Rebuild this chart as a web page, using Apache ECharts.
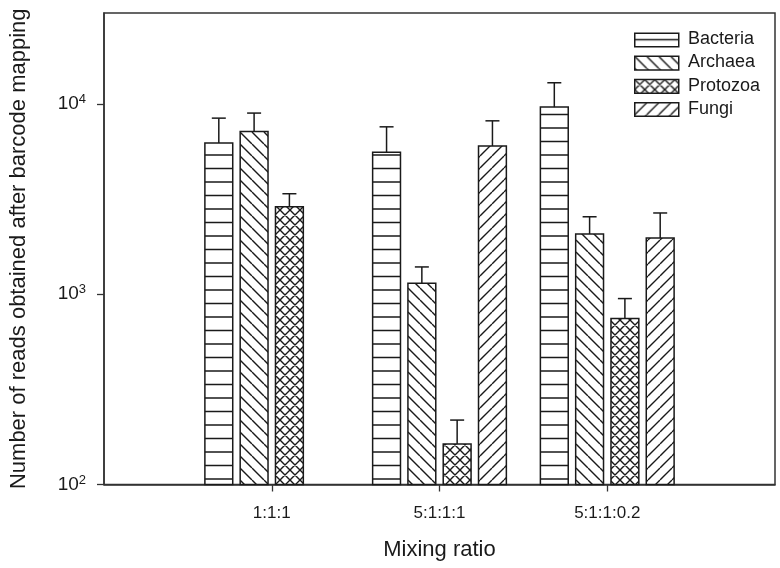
<!DOCTYPE html>
<html>
<head>
<meta charset="utf-8">
<script src="https://cdn.jsdelivr.net/npm/echarts@6/dist/echarts.min.js"></script>
<style>html,body{margin:0;padding:0;background:#fff}#c{width:780px;height:568px}</style>
</head>
<body>
<div id="c"></div>
<script>
const categories = ['1:1:1', '5:1:1:1', '5:1:1:0.2'];
const seriesNames = ['Bacteria', 'Archaea', 'Protozoa', 'Fungi'];
const bacteria    = [6220, 5570, 9610];
const bacteriaErr = [8410, 7570, 12900];
const archaea     = [7150, 1140, 2070];
const archaeaErr  = [8940, 1390, 2550];
const protozoa    = [2880, 163, 744];
const protozoaErr = [3370, 218, 948];
const fungi       = [null, 6000, 1970];
const fungiErr    = [null, 8140, 2670];
const yTicks = [100, 1000, 10000];
const yMin = 100, yMax = 30000;

const INK = '#1a1a1a';
const FONT = '"Liberation Sans", Arial, Helvetica, sans-serif';

function makePattern(type) {
  const c = document.createElement('canvas');
  let w, h;
  if (type === 'h') { w = 10; h = 27; }
  else if (type === 'x') { w = h = 10; }
  else { w = h = 12; }
  c.width = w; c.height = h;
  const ctx = c.getContext('2d');
  ctx.fillStyle = '#fff';
  ctx.fillRect(0, 0, w, h);
  ctx.strokeStyle = INK;
  ctx.lineWidth = 1.4;
  ctx.beginPath();
  if (type === 'h') {
    ctx.moveTo(0, 6.5); ctx.lineTo(w, 6.5);
    ctx.moveTo(0, 20); ctx.lineTo(w, 20);
  }
  if (type === 'b' || type === 'x') {
    for (let k = -1; k <= 1; k++) { ctx.moveTo(k * w, 0); ctx.lineTo(k * w + w, h); }
  }
  if (type === 'f' || type === 'x') {
    for (let k = -1; k <= 1; k++) { ctx.moveTo(k * w, h); ctx.lineTo(k * w + w, 0); }
  }
  ctx.stroke();
  return { image: c, repeat: 'repeat' };
}
const patterns = [makePattern('h'), makePattern('b'), makePattern('x'), makePattern('f')];

const values = [bacteria, archaea, protozoa, fungi];
const errs = [bacteriaErr, archaeaErr, protozoaErr, fungiErr];

function renderItem(params, api) {
  const ci = api.value(0), v = api.value(1), e = api.value(2);
  const si = params.seriesIndex;
  const p1 = api.coord([1, yMin]), p2 = api.coord([2, yMin]);
  const unit = p2[0] - p1[0];
  const step = unit * 0.2104;
  const w = unit * 0.166;
  const base = api.coord([ci, yMin]);
  const top = api.coord([ci, v]);
  const et = api.coord([ci, e]);
  const cx = top[0] + (si - 1.5) * step;
  const capHalf = 7;
  return {
    type: 'group',
    children: [
      { type: 'rect', shape: { x: cx - w / 2, y: top[1], width: w, height: base[1] - top[1] },
        style: { fill: patterns[si], stroke: INK, lineWidth: 1.5 } },
      { type: 'line', shape: { x1: cx, y1: top[1], x2: cx, y2: et[1] },
        style: { stroke: INK, lineWidth: 1.5 } },
      { type: 'line', shape: { x1: cx - capHalf, y1: et[1], x2: cx + capHalf, y2: et[1] },
        style: { stroke: INK, lineWidth: 1.5 } }
    ]
  };
}

const series = seriesNames.map((name, si) => {
  const data = [];
  categories.forEach((cat, i) => {
    if (values[si][i] != null) data.push([i + 1, values[si][i], errs[si][i]]);
  });
  return {
    name, type: 'custom', renderItem, data,
    encode: { x: 0, y: 1 }, clip: false, z: 3
  };
});

// legend drawn as graphic
const legendEls = [];
seriesNames.forEach((name, si) => {
  const cy = 39.2 + si * 23.2;
  legendEls.push({ type: 'rect', left: 634, top: cy - 6.8,
    shape: { width: 44, height: 13.6 },
    style: { fill: patterns[si], stroke: INK, lineWidth: 1.5 } });
  legendEls.push({ type: 'text', left: 688, top: cy - 10,
    style: { text: name, fontSize: 18, fontFamily: FONT, fill: INK, lineHeight: 20, textVerticalAlign: 'top' } });
});

const chart = echarts.init(document.getElementById('c'), null, { renderer: 'canvas' });
chart.setOption({
  animation: false,
  backgroundColor: '#fff',
  grid: { left: 100, right: 5, top: 13, bottom: 83.5, show: true, borderColor: '#333', borderWidth: 1.5 },
  xAxis: {
    type: 'value', min: 0, max: 4, interval: 1,
    name: 'Mixing ratio', nameLocation: 'middle', nameGap: 54,
    nameTextStyle: { fontSize: 22, fontFamily: FONT, color: INK },
    axisLine: { show: true, lineStyle: { color: '#333', width: 1.5 } },
    axisTick: { show: true, length: 7, customValues: [1, 2, 3], lineStyle: { color: '#333', width: 1.3 } },
    axisLabel: { customValues: [1, 2, 3], margin: 20, fontSize: 17, fontFamily: FONT, color: INK,
      formatter: v => categories[Math.round(v) - 1] || '' },
    splitLine: { show: false }
  },
  yAxis: {
    type: 'log', logBase: 10, min: yMin, max: yMax,
    name: 'Number of reads obtained after barcode mapping', nameLocation: 'middle', nameGap: 74,
    nameTextStyle: { fontSize: 22, fontFamily: FONT, color: INK },
    axisLine: { show: true, lineStyle: { color: '#333', width: 1.5 } },
    axisTick: { show: true, length: 7, customValues: yTicks, lineStyle: { color: '#333', width: 1.3 } },
    axisLabel: { customValues: yTicks, margin: 18, fontFamily: FONT, color: INK,
      formatter: v => '{b|10}{s|' + Math.round(Math.log10(v)) + '}',
      rich: {
        b: { fontSize: 19, lineHeight: 22, fontFamily: FONT, color: INK },
        s: { fontSize: 13, lineHeight: 13, verticalAlign: 'top', fontFamily: FONT, color: INK }
      } },
    splitLine: { show: false },
    minorTick: { show: false }
  },
  graphic: legendEls,
  series
});
</script>
</body>
</html>
